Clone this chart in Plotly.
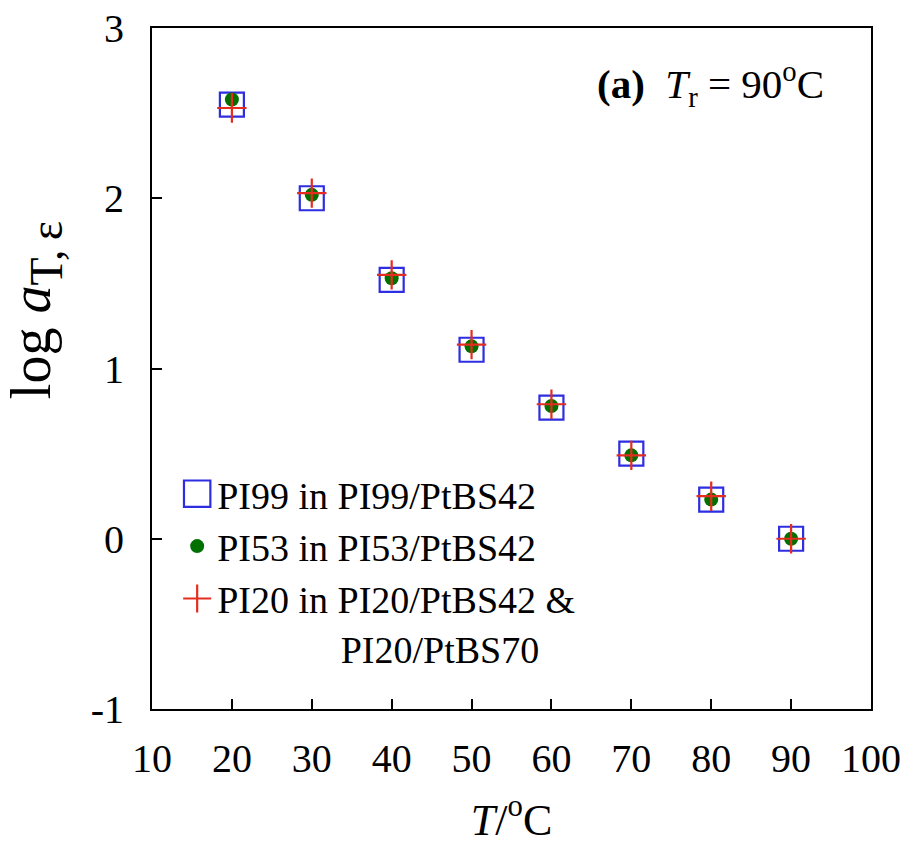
import plotly.graph_objects as go

# Shift factors log a_T,eps vs. temperature, reference temperature 90 C
temperature = [20, 30, 40, 50, 60, 70, 80, 90]
pi99_shift = [2.55, 2.00, 1.52, 1.11, 0.77, 0.50, 0.23, 0.00]
pi53_shift = [2.58, 2.02, 1.53, 1.13, 0.78, 0.49, 0.23, 0.00]
pi20_shift = [2.53, 2.03, 1.55, 1.14, 0.79, 0.49, 0.25, 0.00]

x_ticks = [10, 20, 30, 40, 50, 60, 70, 80, 90, 100]
y_ticks = [-1, 0, 1, 2, 3]

FONT = "Liberation Serif, Times New Roman, serif"
BLUE = "rgb(45,45,225)"
GREEN = "rgb(0,112,0)"
RED = "rgb(228,45,30)"

fig = go.Figure()
fig.add_trace(go.Scatter(
    x=temperature, y=pi99_shift, mode="markers",
    name="PI99 in PI99/PtBS42",
    marker=dict(symbol="square-open", size=24, color=BLUE,
                line=dict(color=BLUE, width=2.2)),
))
fig.add_trace(go.Scatter(
    x=temperature, y=pi53_shift, mode="markers",
    name="PI53 in PI53/PtBS42",
    marker=dict(symbol="circle", size=14, color=GREEN, line=dict(width=0)),
))
nb = "\u00a0"
fig.add_trace(go.Scatter(
    x=temperature, y=pi20_shift, mode="markers",
    name="PI20 in PI20/PtBS42 &<br>" + nb * 13 + "PI20/PtBS70",
    marker=dict(symbol="cross-thin-open", size=21, color=RED,
                line=dict(color=RED, width=2.2)),
))

axis_common = dict(
    showline=True, linecolor="black", linewidth=2, mirror=True,
    ticks="inside", tickcolor="black", tickwidth=2, ticklen=10,
    showgrid=False, zeroline=False,
    tickfont=dict(family=FONT, size=40, color="black"),
)

fig.update_xaxes(
    range=[10, 100], tickvals=x_ticks, ticktext=[str(v) for v in x_ticks],
    ticklabelstandoff=13,
    title=dict(text="<i>T</i>/<sup>o</sup>C", standoff=24,
               font=dict(family=FONT, size=44, color="black")),
    **axis_common,
)
fig.update_yaxes(
    range=[-1, 3], tickvals=y_ticks, ticktext=[str(v) for v in y_ticks],
    ticklabelstandoff=18,
    **axis_common,
)

fig.add_annotation(
    text="log <i>a</i><sub><span style='font-size:46px'>T,\u2009\u03b5</span></sub>",
    textangle=-90,
    xref="paper", yref="paper", x=-0.162, y=0.585,
    xanchor="center", yanchor="middle", showarrow=False,
    font=dict(family=FONT, size=56, color="black"),
)
fig.add_annotation(
    text="<b>(a)</b>  <i>T</i><sub>r</sub> = 90<sup>o</sup>C",
    xref="paper", yref="paper", x=0.937, y=0.918,
    xanchor="right", yanchor="middle", showarrow=False,
    font=dict(family=FONT, size=41, color="black"),
)

fig.update_layout(
    width=909, height=850,
    margin=dict(l=152, r=38, t=28, b=141, autoexpand=False),
    paper_bgcolor="white", plot_bgcolor="white",
    font=dict(family=FONT, color="black"),
    showlegend=True,
    legend=dict(
        x=0.035, y=0.362, xanchor="left", yanchor="top",
        bgcolor="rgba(0,0,0,0)", borderwidth=0, valign="top",
        font=dict(family=FONT, size=38, color="black"),
        tracegroupgap=0,
    ),
)

# enlarge legend symbols beyond plotly's 16 px legend marker cap
post = """
var gd = document.getElementById('{plot_id}');
var scales = [1.65, 1.0, 1.25];
gd.querySelectorAll('.legend .traces').forEach(function(tr, i) {
  tr.querySelectorAll('.legendpoints path').forEach(function(p) {
    var t = p.getAttribute('transform') || '';
    p.setAttribute('transform', t + ' scale(' + scales[i] + ')');
    p.style.vectorEffect = 'non-scaling-stroke';
  });
});
"""

fig.write_html("out.html", post_script=post)
